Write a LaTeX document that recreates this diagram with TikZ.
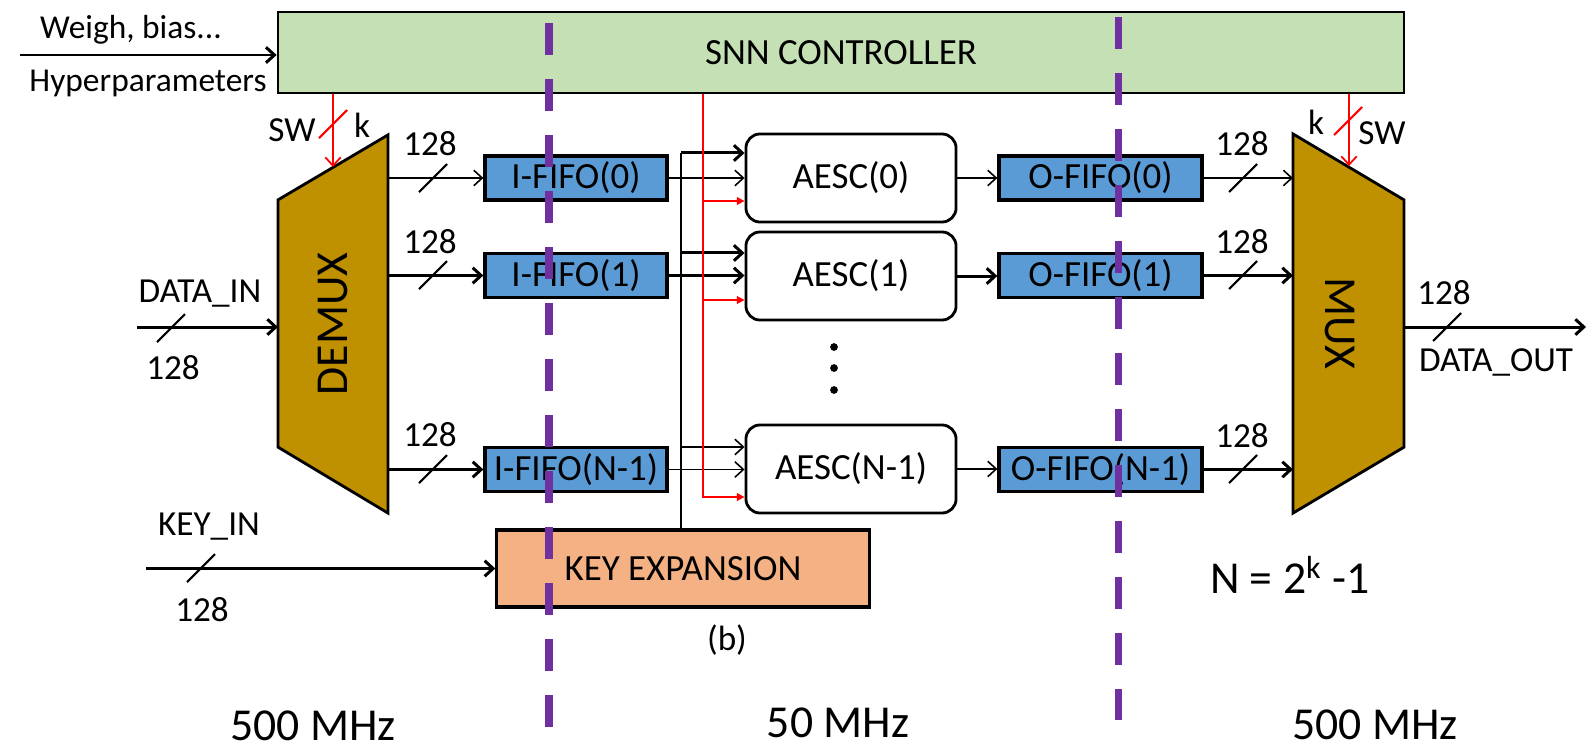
\documentclass[tikz,border=0pt]{standalone}
\usepackage{fontspec}
\setmainfont{Carlito}
\usepackage{xcolor}
\usetikzlibrary{arrows.meta,positioning,calc}

\definecolor{ctrlgreen}{RGB}{197,224,180}
\definecolor{muxgold}{RGB}{191,144,0}
\definecolor{fifoblue}{RGB}{91,155,213}
\definecolor{keyorange}{RGB}{244,177,131}
\definecolor{clockpurple}{RGB}{112,48,160}

\begin{document}
\begin{tikzpicture}[
    x=0.01cm, y=-0.01cm,
    font=\fontsize{10}{12}\selectfont,
    ctrl/.style={rectangle, draw, line width=0.6pt, fill=ctrlgreen, minimum width=11.26cm, minimum height=0.81cm, font=\fontsize{10.5}{12}\selectfont},
    fifo/.style={rectangle, draw, line width=0.9pt, fill=fifoblue, minimum height=0.44cm, inner sep=0pt, font=\fontsize{10.5}{12}\selectfont},
    aesc/.style={rectangle, draw, line width=0.8pt, rounded corners=4pt, minimum width=2.1cm, minimum height=0.88cm, font=\fontsize{10.5}{12}\selectfont},
    keybox/.style={rectangle, draw, line width=0.9pt, fill=keyorange, minimum width=3.72cm, minimum height=0.77cm, font=\fontsize{10.5}{12}\selectfont},
    muxframe/.style={rectangle, inner sep=0pt, outer sep=0pt},
    muxbody/.style={draw, line width=0.8pt, fill=muxgold},
    muxtext/.style={font=\fontsize{13}{15}\selectfont},
    lbl/.style={inner sep=1pt},
    big/.style={font=\fontsize{13}{15}\selectfont},
    wire/.style={line width=0.45pt},
    arrow/.style={-{Straight Barb[length=2.4pt,width=4.4pt]}, line width=0.45pt},
    bigarrow/.style={-{Straight Barb[length=2.4pt,width=4.4pt]}, line width=0.85pt},
    selarrow/.style={-{Straight Barb[length=2.4pt,width=4.4pt]}, red, line width=0.5pt},
    redbus/.style={-{Triangle[length=2.2pt,width=2.2pt]}, red, line width=0.7pt},
    redarrow/.style={-{Triangle[length=2.2pt,width=2.2pt]}, red, line width=0.45pt},
    busmark/.style={line width=0.6pt},
    clock/.style={draw=clockpurple, line width=2pt, dash pattern=on 0.32cm off 0.24cm}
]
\useasboundingbox (0,0) rectangle (1588,751);

% controller and inputs
\node[ctrl] (ctrl) at (841,52.5) {SNN CONTROLLER};
\coordinate (win) at (20,55);
\draw[bigarrow] (win) -- (win -| ctrl.west);
\node[lbl, font=\fontsize{9.5}{11}\selectfont] (weigh) at (131,30) {Weigh, bias...};
\node[lbl, font=\fontsize{9.5}{11}\selectfont] (hyper) at (148,83) {Hyperparameters};

% demux
\node[muxframe, minimum width=1.1cm, minimum height=3.78cm] (demux) at (333,324) {};
\draw[muxbody] (demux.north east) -- (demux.south east) -- ($(demux.south west)+(0,-66)$) -- ($(demux.north west)+(0,65)$) -- cycle;
\node[muxtext, rotate=90] (demuxtext) at (demux) {DEMUX};

% mux
\node[muxframe, minimum width=1.11cm, minimum height=3.79cm] (mux) at (1348.5,323.5) {};
\draw[muxbody] (mux.north west) -- ($(mux.north east)+(0,66)$) -- ($(mux.south east)+(0,-66)$) -- (mux.south west) -- cycle;
\node[muxtext, rotate=-90] (muxtext) at (1340,323.5) {MUX};

% fifos and cores
\node[fifo, minimum width=1.82cm] (ififo0) at (576,178) {I-FIFO(0)};
\node[fifo, minimum width=1.82cm] (ififo1) at (576,275.5) {I-FIFO(1)};
\node[fifo, minimum width=1.82cm] (ififoN) at (576,469.5) {I-FIFO(N-1)};
\node[aesc] (aesc0) at (851,178) {AESC(0)};
\node[aesc] (aesc1) at (851,276) {AESC(1)};
\node[aesc] (aescN) at (851,469) {AESC(N-1)};
\node[fifo, minimum width=2.03cm] (ofifo0) at (1100.5,178) {O-FIFO(0)};
\node[fifo, minimum width=2.03cm] (ofifo1) at (1100.5,275.5) {O-FIFO(1)};
\node[fifo, minimum width=2.03cm] (ofifoN) at (1100.5,469.5) {O-FIFO(N-1)};
\node[keybox] (keyexp) at (683,568.5) {KEY EXPANSION};
\foreach \y in {347,368,390}
    \fill (834,\y) circle[radius=1.1pt];

% data path
\coordinate (din) at (137,327);
\draw[bigarrow] (din) -- (din -| demux.west);
\draw[busmark] (171,328) +(-14,14) -- +(14,-14);
\node[lbl] (dinname) at (200,294) {DATA\_IN};
\node[lbl] (dinw) at (173,368) {128};

\draw[arrow] (demux.east |- ififo0) -- (ififo0);
\draw[bigarrow] (demux.east |- ififo1) -- (ififo1);
\draw[bigarrow] (demux.east |- ififoN) -- (ififoN);
\draw[busmark] (433,178) +(-14,14) -- +(14,-14);
\draw[busmark] (433,275) +(-14,14) -- +(14,-14);
\draw[busmark] (433,469) +(-14,14) -- +(14,-14);
\node[lbl] (iw0) at (430,144) {128};
\node[lbl] (iw1) at (430,242) {128};
\node[lbl] (iwN) at (430,435) {128};

\draw[arrow] (ififo0.east) -- (ififo0.east -| aesc0.west);
\draw[bigarrow] (ififo1.east) -- (ififo1.east -| aesc1.west);
\draw[arrow] (ififoN.east) -- (ififoN.east -| aescN.west);

\draw[arrow] (aesc0.east) -- (aesc0.east -| ofifo0.west);
\draw[bigarrow] (aesc1.east) -- (aesc1.east -| ofifo1.west);
\draw[arrow] (aescN.east) -- (aescN.east -| ofifoN.west);

\draw[arrow] (ofifo0.east) -- (ofifo0.east -| mux.west);
\draw[bigarrow] (ofifo1.east) -- (ofifo1.east -| mux.west);
\draw[bigarrow] (ofifoN.east) -- (ofifoN.east -| mux.west);
\draw[busmark] (1243,178) +(-14,14) -- +(14,-14);
\draw[busmark] (1243,275) +(-14,14) -- +(14,-14);
\draw[busmark] (1243,469) +(-14,14) -- +(14,-14);
\node[lbl] (ow0) at (1242,144) {128};
\node[lbl] (ow1) at (1242,242) {128};
\node[lbl] (owN) at (1242,436) {128};

\coordinate (dout) at (1586,327);
\draw[bigarrow] (mux.east |- dout) -- (dout);
\draw[busmark] (1447,327) +(-14,14) -- +(14,-14);
\node[lbl] (doutw) at (1444,293) {128};
\node[lbl] (doutname) at (1496,362) {DATA\_OUT};

% key path
\coordinate (kin) at (146,568.5);
\draw[bigarrow] (kin) -- (keyexp);
\draw[busmark] (201,568) +(-14,14) -- +(14,-14);
\node[lbl] (kinname) at (209,527) {KEY\_IN};
\node[lbl] (kinw) at (202,610) {128};

\coordinate (kbus) at (681,0);
\coordinate (k0) at ([yshift=0.25cm]aesc0.west);
\coordinate (k1) at ([yshift=0.23cm]aesc1.west);
\coordinate (kN) at ([yshift=0.22cm]aescN.west);
\draw[wire] (keyexp.north -| kbus) -- (k0 -| kbus);
\draw[bigarrow] (k0 -| kbus) -- (k0);
\draw[bigarrow] (k1 -| kbus) -- (k1);
\draw[arrow] (kN -| kbus) -- (kN);

% control signals
\coordinate (rbus) at (703,0);
\coordinate (r0) at ([yshift=-0.23cm]aesc0.west);
\coordinate (r1) at ([yshift=-0.24cm]aesc1.west);
\coordinate (rN) at ([yshift=-0.28cm]aescN.west);
\draw[redbus] (ctrl.south -| rbus) |- (rN);
\draw[redarrow] (r0 -| rbus) -- (r0);
\draw[redarrow] (r1 -| rbus) -- (r1);

\coordinate (dsel) at (333,167);
\draw[selarrow] (ctrl.south -| dsel) -- (dsel);
\draw[busmark, red] (333,124) +(-14,14) -- +(14,-14);
\node[lbl] (dsw) at (292,130) {SW};
\node[lbl] (dk) at (362,125) {k};

\coordinate (msel) at (1349,166);
\draw[selarrow] (ctrl.south -| msel) -- (msel);
\draw[busmark, red] (1348,121) +(-14,14) -- +(14,-14);
\node[lbl] (mk) at (1316,122) {k};
\node[lbl] (msw) at (1382,133) {SW};

% notes
\node[lbl] (fig) at (727,640) {(b)};
\node[big] (nform) at (1290,575) {N = 2\textsuperscript{k} -1};
\node[big] (clk1) at (313,726) {500 MHz};
\node[big] (clk2) at (838,723) {50 MHz};
\node[big] (clk3) at (1375,725) {500 MHz};

% clock domain borders
\draw[clock] (549,23) -- (549,727);
\draw[clock] (1118,17) -- (1118,720);
\end{tikzpicture}
\end{document}
